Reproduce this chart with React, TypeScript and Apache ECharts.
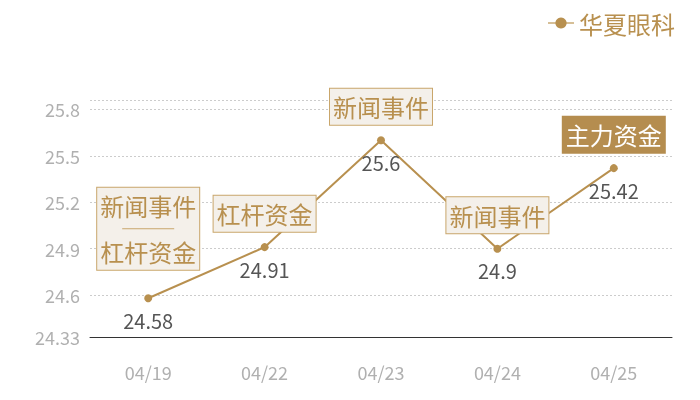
import React, { useEffect, useRef } from 'react';
import * as echarts from 'echarts';

const categories = ['04/19', '04/22', '04/23', '04/24', '04/25'];
const prices = [24.58, 24.91, 25.6, 24.9, 25.42];
// eventos marcados en cada día
const events = [['新闻事件', '杠杆资金'], ['杠杆资金'], ['新闻事件'], ['新闻事件'], ['主力资金']];
const highlighted = [false, false, false, false, true];
const yMin = 24.33;
const yMax = 25.86;
const yLabelValues = [24.33, 24.6, 24.9, 25.2, 25.5, 25.8];
const yLineValues = [24.6, 24.9, 25.2, 25.5, 25.8, 25.86];

const GOLD = '#b8904f';
const FONT = 'Noto Sans CJK SC';

const App: React.FC = () => {
    const chartRef = useRef<HTMLDivElement>(null);

    useEffect(() => {
        if (!chartRef.current) return;
        const chart = echarts.init(chartRef.current, null, { renderer: 'svg' });

        const markData = categories.map((cat, i) => {
            const dark = highlighted[i];
            const txtColor = dark ? '#ffffff' : GOLD;
            return {
                coord: [cat, prices[i]],
                label: {
                    show: true,
                    position: 'top',
                    distance: events[i].length > 1 ? 28 : 15,
                    formatter: events[i].map((e) => `{t|${e}}`).join('\n{hr|}\n'),
                    backgroundColor: dark ? '#b58d4f' : '#f4f0ea',
                    borderColor: dark ? '#b58d4f' : '#c9a66b',
                    borderWidth: 1,
                    padding: [5, 3],
                    rich: {
                        t: { fontSize: 24, lineHeight: 26, color: txtColor, fontFamily: FONT },
                        hr: { width: 52, height: 1, lineHeight: 20, backgroundColor: '#c9a66b' },
                    },
                },
            };
        });

        const option = {
            animation: false,
            textStyle: { fontFamily: FONT },
            legend: {
                data: ['华夏眼科'],
                right: 20,
                top: 6,
                itemWidth: 26,
                itemHeight: 14,
                itemGap: 5,
                lineStyle: { color: '#d6bf97' },
                textStyle: { fontSize: 24, color: GOLD, fontFamily: FONT },
            },
            grid: { left: 90, right: 28, top: 100, bottom: 63 },
            xAxis: {
                type: 'category',
                data: categories,
                axisLine: { lineStyle: { color: '#333', width: 1 } },
                axisTick: { show: false },
                axisLabel: { color: '#b0b0b0', fontSize: 18, margin: 26, fontFamily: FONT },
            },
            yAxis: {
                type: 'value',
                min: yMin,
                max: yMax,
                axisLine: { show: false },
                axisTick: { show: false, customValues: yLineValues },
                axisLabel: {
                    color: '#b0b0b0',
                    fontSize: 18,
                    margin: 10,
                    fontFamily: FONT,
                    customValues: yLabelValues,
                },
                splitLine: { lineStyle: { color: '#cccccc', type: [2, 2], width: 1 } },
            },
            series: [
                {
                    name: '华夏眼科',
                    type: 'line',
                    data: prices,
                    symbol: 'circle',
                    symbolSize: 8,
                    lineStyle: { color: GOLD, width: 2 },
                    itemStyle: { color: GOLD },
                    label: {
                        show: true,
                        position: 'bottom',
                        distance: 8,
                        fontSize: 20,
                        color: '#555',
                        fontFamily: FONT,
                    },
                    markPoint: {
                        symbol: 'circle',
                        symbolSize: 1,
                        itemStyle: { color: 'transparent' },
                        data: markData,
                    },
                },
            ],
        };

        chart.setOption(option as any);

        return () => {
            chart.dispose();
        };
    }, []);

    return <div ref={chartRef} style={{ position: 'fixed', left: 0, top: 0, width: 700, height: 400 }} />;
};

export default App;
